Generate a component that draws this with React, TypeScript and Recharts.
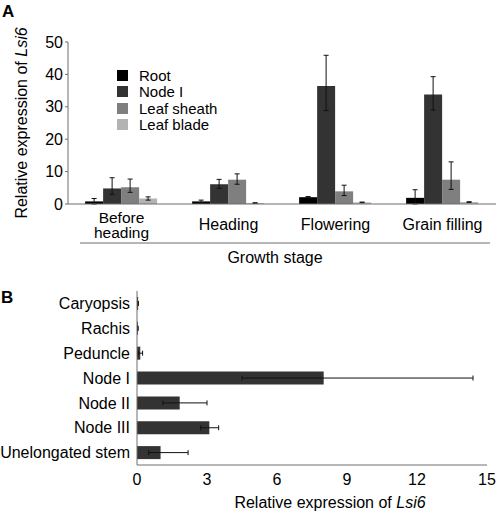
import { BarChart, Bar, XAxis, YAxis, Legend, ErrorBar } from 'recharts'

// panel A: Lsi6 expression per organ across growth stages
const stages = ['Before heading', 'Heading', 'Flowering', 'Grain filling']
const root = [0.8, 0.8, 2.1, 1.9]
const rootErr = [[0.8, 0.9], [0.4, 0.4], [0.2, 0.2], [1.9, 2.5]]
const nodeI = [4.8, 6.1, 36.4, 33.8]
const nodeIErr = [[1.8, 3.3], [1.3, 1.5], [7.6, 9.5], [4.8, 5.5]]
const leafSheath = [5.2, 7.5, 3.9, 7.5]
const leafSheathErr = [[1.6, 2.5], [1.4, 1.8], [1.3, 1.9], [3.0, 5.5]]
const leafBlade = [1.7, 0.3, 0.5, 0.6]
const leafBladeErr = [[0.5, 0.5], [0.1, 0.1], [0.1, 0.1], [0.1, 0.1]]
const yTicksA = [0, 10, 20, 30, 40, 50]

// panel B: expression in tissues at flowering
const tissues = ['Caryopsis', 'Rachis', 'Peduncle', 'Node I', 'Node II', 'Node III', 'Unelongated stem']
const tissueExpr = [0.05, 0.04, 0.14, 8.0, 1.83, 3.1, 1.01]
const tissueErr = [[0.01, 0.01], [0.01, 0.01], [0.09, 0.1], [3.5, 6.4], [0.72, 1.17], [0.37, 0.4], [0.51, 1.18]]
const xTicksB = [0, 3, 6, 9, 12, 15]

const seriesA = [
  { key: 'root', name: 'Root', color: '#000000', values: root, errors: rootErr },
  { key: 'nodeI', name: 'Node I', color: '#333333', values: nodeI, errors: nodeIErr },
  { key: 'leafSheath', name: 'Leaf sheath', color: '#7f7f7f', values: leafSheath, errors: leafSheathErr },
  { key: 'leafBlade', name: 'Leaf blade', color: '#b3b3b3', values: leafBlade, errors: leafBladeErr }
]

const dataA = stages.map((stage, i) => {
  const row: Record<string, unknown> = { stage }
  seriesA.forEach((s) => {
    row[s.key] = s.values[i]
    row[s.key + 'Err'] = s.errors[i]
  })
  return row
})

const dataB = tissues.map((tissue, i) => ({
  tissue,
  value: tissueExpr[i],
  err: tissueErr[i]
}))

const FONT = '"Liberation Sans", Arial, sans-serif'
const AXIS = '#6e6e6e'

// "Before heading" wraps onto two lines like the original
const StageTick = ({ x, y, payload }: any) => {
  const label: string = payload.value
  if (label === 'Before heading') {
    return (
      <text x={x} y={y} textAnchor="middle" fill="#000" fontSize={15.5}>
        <tspan x={x} dy={18.5}>Before</tspan>
        <tspan x={x} dy={15.5}>heading</tspan>
      </text>
    )
  }
  return (
    <text x={x} y={y + 26} textAnchor="middle" fill="#000" fontSize={16}>
      {label}
    </text>
  )
}

const ExprTitle = ({ x, y, rotate }: { x: number; y: number; rotate?: boolean }) => (
  <text
    x={x}
    y={y}
    textAnchor="middle"
    fill="#000"
    fontSize={16}
    transform={rotate ? `rotate(-90, ${x}, ${y})` : undefined}
  >
    Relative expression of <tspan fontStyle="italic">Lsi6</tspan>
  </text>
)

const LegendA = () => (
  <div style={{ fontSize: 15, color: '#000' }}>
    {seriesA.map((s) => (
      <div key={s.key} style={{ display: 'flex', alignItems: 'center', height: 16.5 }}>
        <span style={{ width: 11, height: 11, background: s.color, marginRight: 11 }} />
        <span>{s.name}</span>
      </div>
    ))}
  </div>
)

export default function App() {
  return (
    <div
      style={{
        position: 'absolute',
        left: 0,
        top: 0,
        width: 498,
        height: 512,
        background: '#fff',
        fontFamily: FONT
      }}
    >
      <div style={{ position: 'absolute', left: 2, top: 2, fontSize: 17, fontWeight: 'bold' }}>A</div>
      <div style={{ position: 'absolute', left: 1, top: 288, fontSize: 17, fontWeight: 'bold' }}>B</div>

      <div style={{ position: 'absolute', left: 0, top: 0 }}>
        <BarChart
          width={498}
          height={270}
          data={dataA}
          margin={{ top: 42, right: 2, left: 0, bottom: 0 }}
          barCategoryGap="16%"
          barGap={0}
        >
          <XAxis
            dataKey="stage"
            height={66}
            stroke={AXIS}
            tickLine={false}
            tickSize={0}
            tickMargin={0}
            interval={0}
            tick={<StageTick />}
            label={(props: any) => {
              const vb = props.viewBox
              return (
                <g>
                  <line x1={vb.x + 12} x2={vb.x + vb.width - 6} y1={vb.y + 39} y2={vb.y + 39} stroke={AXIS} />
                  <text x={275} y={vb.y + 59} textAnchor="middle" fill="#000" fontSize={16}>
                    Growth stage
                  </text>
                </g>
              )
            }}
          />
          <YAxis
            width={68}
            domain={[0, 50]}
            ticks={yTicksA}
            stroke={AXIS}
            tickSize={3}
            tickMargin={2}
            tick={{ fill: '#000', fontSize: 16 }}
            label={(props: any) => (
              <ExprTitle x={27} y={props.viewBox.y + props.viewBox.height / 2} rotate />
            )}
          />
          <Legend
            layout="vertical"
            align="center"
            verticalAlign="middle"
            content={<LegendA />}
            wrapperStyle={{ left: 117, top: 67, width: 'auto' }}
          />
          {seriesA.map((s) => (
            <Bar key={s.key} dataKey={s.key} name={s.name} fill={s.color} isAnimationActive={false}>
              <ErrorBar dataKey={s.key + 'Err'} direction="y" width={2.5} stroke="#111" strokeWidth={1} />
            </Bar>
          ))}
        </BarChart>
      </div>

      <div style={{ position: 'absolute', left: 0, top: 270 }}>
        <BarChart
          width={498}
          height={241}
          data={dataB}
          layout="vertical"
          margin={{ top: 21, right: 11, left: 0, bottom: 0 }}
          barCategoryGap="24%"
        >
          <XAxis
            type="number"
            domain={[0, 15]}
            ticks={xTicksB}
            height={46}
            stroke={AXIS}
            tickLine={false}
            tickSize={6}
            tickMargin={3}
            tick={{ fill: '#000', fontSize: 16 }}
            label={(props: any) => (
              <ExprTitle x={props.viewBox.x + 193} y={props.viewBox.y + 43} />
            )}
          />
          <YAxis
            type="category"
            dataKey="tissue"
            width={137}
            stroke={AXIS}
            tickLine={false}
            tickSize={0}
            tickMargin={7}
            interval={0}
            tick={{ fill: '#000', fontSize: 16 }}
          />
          <Bar dataKey="value" fill="#333333" isAnimationActive={false}>
            <ErrorBar dataKey="err" direction="x" width={2.5} stroke="#111" strokeWidth={1} />
          </Bar>
        </BarChart>
      </div>
    </div>
  )
}
